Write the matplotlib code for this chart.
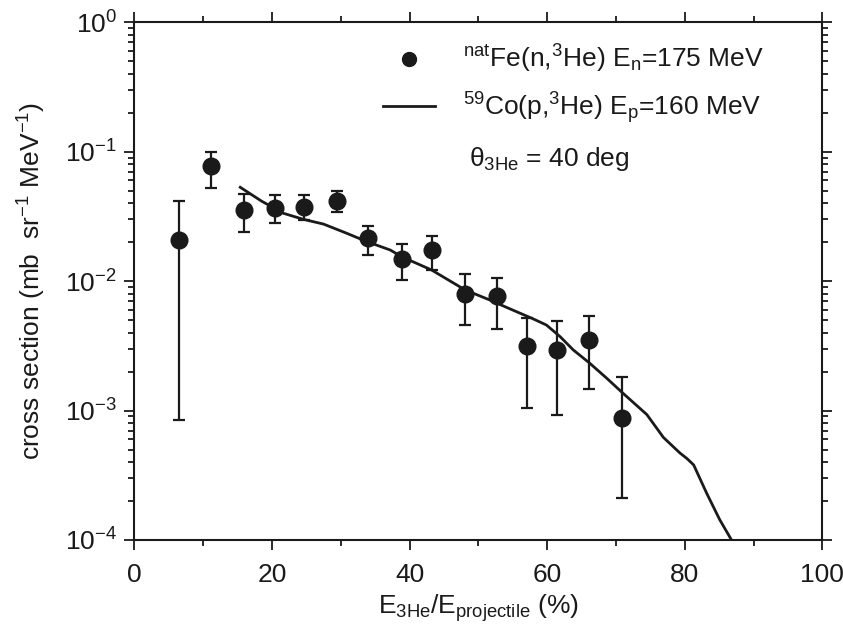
import numpy as np
import matplotlib
matplotlib.use('Agg')
import matplotlib.pyplot as plt
from matplotlib.lines import Line2D
from matplotlib.ticker import LogLocator, MultipleLocator, NullFormatter

plt.rcParams['font.family'] = ['Liberation Sans', 'DejaVu Sans']
plt.rcParams['mathtext.default'] = 'regular'
plt.rcParams['axes.unicode_minus'] = False

# measured 3He spectrum, natFe(n,3He), En = 175 MeV
x_data = [6.5, 11.2, 16.0, 20.4, 24.7, 29.4, 34.0, 38.9, 43.2, 48.1, 52.7, 57.1, 61.5, 66.1, 70.9]
y_data = [0.0208, 0.0776, 0.0354, 0.0369, 0.0376, 0.0418, 0.0214, 0.0147, 0.0174,
          0.00795, 0.00767, 0.00315, 0.00294, 0.00350, 0.00087]
y_hi = [0.0418, 0.0989, 0.0471, 0.0460, 0.0460, 0.0494, 0.0268, 0.0192, 0.0223,
        0.01135, 0.01057, 0.00516, 0.00494, 0.00537, 0.00181]
y_lo = [0.000845, 0.0527, 0.0241, 0.0283, 0.0297, 0.0342, 0.0159, 0.0102, 0.0122,
        0.0046, 0.00425, 0.00104, 0.00092, 0.00147, 0.00021]

# 59Co(p,3He), Ep = 160 MeV
x_ref = [15.4, 18.5, 21.7, 24.6, 27.5, 30.9, 33.8, 37.2, 38.9, 43.2, 48.1, 51.7, 54.1,
         57.8, 59.9, 61.9, 63.8, 66.2, 68.7, 70.9, 74.5, 76.9, 79.3, 80.3, 81.3,
         83.2, 85.1, 86.8, 87.6]
y_ref = [0.0531, 0.0415, 0.0334, 0.0300, 0.0276, 0.0234, 0.0202, 0.0174, 0.0154,
         0.0122, 0.00854, 0.00714, 0.00627, 0.00516, 0.00458, 0.00372, 0.00294,
         0.00232, 0.00177, 0.00138, 0.00093, 0.00062, 0.00047, 0.000427, 0.00038,
         0.000229, 0.000143, 0.000100, 0.000085]

lab_data = r'$^{nat}$Fe(n,$^{3}$He) E$_{n}$=175 MeV'
lab_ref = r'$^{59}$Co(p,$^{3}$He) E$_{p}$=160 MeV'

ink = '#1a1a1a'

fig = plt.figure(figsize=(8.43, 6.26), dpi=100)
ax = fig.add_axes([0.1593, 0.1374, 0.9755 - 0.1593, 0.9644 - 0.1374])

yerr = [np.array(y_data) - np.array(y_lo), np.array(y_hi) - np.array(y_data)]
ax.errorbar(x_data, y_data, yerr=yerr, fmt='o', color=ink, ms=12,
            elinewidth=1.6, capsize=4.5, capthick=1.6, zorder=3)
ax.plot(x_ref, y_ref, '-', color=ink, lw=2.0)

ax.set_yscale('log')
ax.set_xlim(0, 100)
ax.set_ylim(1e-4, 1)
ax.xaxis.set_major_locator(MultipleLocator(20))
ax.xaxis.set_minor_locator(MultipleLocator(10))
ax.yaxis.set_major_locator(LogLocator(base=10, numticks=10))
ax.yaxis.set_minor_locator(LogLocator(base=10, subs=np.arange(2, 10), numticks=10))
ax.yaxis.set_minor_formatter(NullFormatter())

ax.tick_params(which='both', direction='out', top=True, right=True,
               labelsize=19, color=ink, labelcolor=ink, width=1.3)
ax.tick_params(which='major', length=7.5, pad=5)
ax.tick_params(which='minor', length=4.5)
ax.tick_params(axis='x', which='major', pad=9)
for s in ax.spines.values():
    s.set_linewidth(1.5)
    s.set_color(ink)

ax.set_xlabel(r'E$_{3He}$/E$_{projectile}$ (%)', fontsize=19, color=ink, labelpad=4)
ax.set_ylabel(r'cross section (mb  sr$^{-1}$ MeV$^{-1}$)', fontsize=19,
              color=ink, labelpad=12)

handles = [Line2D([], [], ls='none', marker='o', ms=10, color=ink),
           Line2D([], [], ls='-', lw=2.0, color=ink)]
leg = ax.legend(handles, [lab_data, lab_ref], loc='upper left',
                bbox_to_anchor=(0.362, 0.96), frameon=False,
                fontsize=19, handlelength=1.95, handletextpad=1.05,
                labelspacing=0.55, borderpad=0, borderaxespad=0)
for t in leg.get_texts():
    t.set_color(ink)

ax.text(0.487, 0.735, r'$\theta_{3He}$ = 40 deg', transform=ax.transAxes,
        fontsize=19, color=ink, va='center', ha='left')

fig.savefig('out.png', dpi=100)
